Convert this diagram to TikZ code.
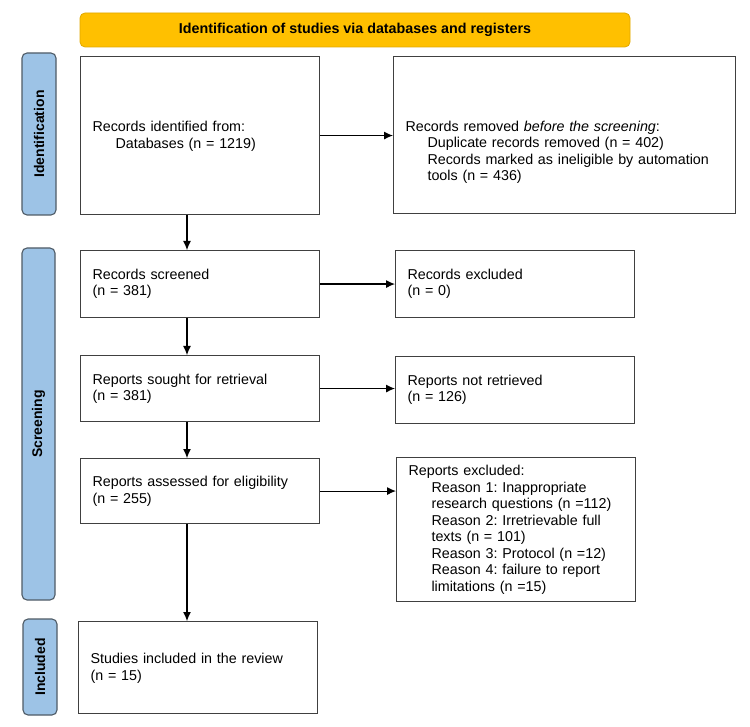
\documentclass[tikz,border=0pt]{standalone}
\usepackage{fontspec}
\setmainfont{Liberation Sans}
\usepackage{tikz}
\usetikzlibrary{arrows.meta}
\definecolor{bannerfill}{HTML}{FFC000}
\definecolor{bannerline}{HTML}{E0A800}
\definecolor{tabfill}{HTML}{9DC3E6}
\definecolor{tabline}{HTML}{4F5B66}
\definecolor{boxline}{HTML}{404040}
\frenchspacing
\begin{document}
\begin{tikzpicture}[x=1pt, y=-1pt, >={Latex[length=9pt,width=8pt]},
    font=\fontsize{14.3}{16.5}\selectfont,
    block/.style={draw=boxline, line width=1.1pt, rectangle, anchor=north west,
        inner xsep=12pt, inner ysep=0pt, text width=215pt, align=left},
    raised/.style={text depth=18pt},
    phase/.style={draw=tabline, fill=tabfill, line width=1.1pt, rounded corners=5pt,
        rotate=90, inner sep=0pt, font=\fontsize{14}{16}\selectfont\bfseries},
    flow/.style={->, line width=1.1pt}]

    \useasboundingbox (0,0) rectangle (750,727);

    % banner and phase tabs
    \node [draw=bannerline, fill=bannerfill, line width=0.8pt, rounded corners=5pt,
           minimum width=550pt, minimum height=34pt, inner sep=0pt,
           font=\fontsize{14.3}{16.5}\selectfont\bfseries] (banner) at (355,30)
          {Identification of studies via databases and registers};
    \node [phase, minimum width=162pt, minimum height=34pt] (tabident) at (39,134) {Identification};
    \node [phase, minimum width=352pt, minimum height=33pt] (tabscreen) at (38.5,424) {Screening};
    \node [phase, minimum width=96pt, minimum height=34pt] (tabincl) at (40,667) {Included};

    % left column
    \node [block, raised, minimum height=158pt] (ident) at (80,56)
          {Records identified from:\\\hspace*{23pt}Databases (n = 1219)};
    \node [block, minimum height=67pt] (screened) at (80,250)
          {Records screened\\(n = 381)};
    \node [block, minimum height=66pt] (sought) at (80,355)
          {Reports sought for retrieval\\(n = 381)};
    \node [block, minimum height=65pt] (assessed) at (80,458)
          {Reports assessed for eligibility\\(n = 255)};
    \node [block, raised, minimum height=92pt] (included) at (78,621)
          {Studies included in the review\\(n = 15)};

    % right column
    \node [block, raised, text width=318pt, inner xsep=12pt, minimum height=157pt] (removed) at (393,56)
          {Records removed \textit{before the screening}:\\
           \hspace*{22pt}Duplicate records removed (n = 402)\\
           \hspace*{22pt}Records marked as ineligible by automation\\
           \hspace*{22pt}tools (n = 436)};
    \node [block, minimum height=67pt] (excluded) at (395,250)
          {Records excluded\\(n = 0)};
    \node [block, minimum height=67pt] (notretr) at (395,356)
          {Reports not retrieved\\(n = 126)};
    \node [block, minimum height=144pt] (repexcl) at (396,457)
          {Reports excluded:\\
           \hspace*{23pt}Reason 1: Inappropriate\\
           \hspace*{23pt}research questions (n =112)\\
           \hspace*{23pt}Reason 2: Irretrievable full\\
           \hspace*{23pt}texts (n = 101)\\
           \hspace*{23pt}Reason 3: Protocol (n =12)\\
           \hspace*{23pt}Reason 4: failure to report\\
           \hspace*{23pt}limitations (n =15)};

    \coordinate (col) at (187,0);

    \draw [flow] (ident.south -| col) -- (screened.north -| col);
    \draw [flow] (screened.south -| col) -- (sought.north -| col);
    \draw [flow] (sought.south -| col) -- (assessed.north -| col);
    \draw [flow] (assessed.south -| col) -- (included.north -| col);

    \draw [flow] (ident.east) -- (ident.east -| removed.west);
    \draw [flow] (screened.east) -- (screened.east -| excluded.west);
    \draw [flow] (sought.east) -- (sought.east -| notretr.west);
    \draw [flow] (assessed.east) -- (assessed.east -| repexcl.west);
\end{tikzpicture}
\end{document}
